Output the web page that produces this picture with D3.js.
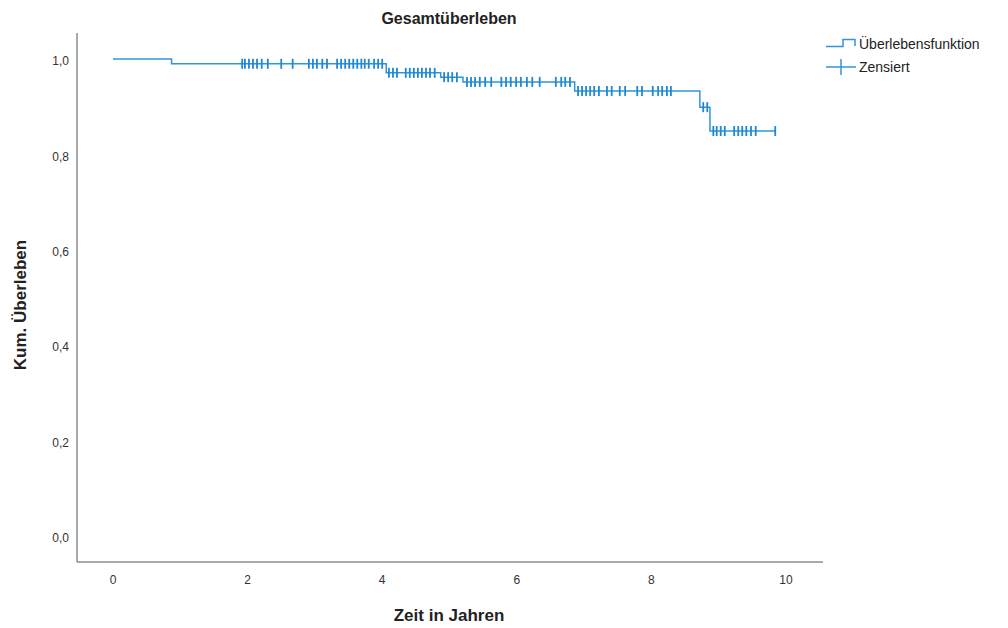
<!DOCTYPE html>
<html><head><meta charset="utf-8">
<script src="https://cdn.jsdelivr.net/npm/d3@7"></script>
<style>body{margin:0;background:#fff}svg{display:block}text{font-family:"Liberation Sans",Arial,sans-serif;fill:#222}</style>
</head><body>
<script>
// Event times (years) and survival after each event
const eventTimes = [0.87, 4.06, 4.87, 5.20, 6.86, 8.72, 8.87];
const survivalAfter = [0.99, 0.971, 0.962, 0.952, 0.933, 0.899, 0.849];
// Censored observation times (years)
const censoredTimes = [1.92,1.96,2.02,2.08,2.14,2.21,2.30,2.50,2.67,2.91,2.97,3.03,3.11,3.18,3.33,3.39,3.45,3.51,3.57,3.63,3.69,3.74,3.80,3.88,3.94,4.00,
 4.10,4.16,4.22,4.35,4.41,4.47,4.53,4.59,4.65,4.71,4.78,
 4.92,4.98,5.04,5.11,
 5.26,5.32,5.38,5.45,5.53,5.62,5.77,5.84,5.91,5.99,6.06,6.15,6.23,6.34,6.58,6.66,6.72,6.79,
 6.91,6.97,7.03,7.09,7.15,7.22,7.34,7.41,7.53,7.61,7.79,7.86,8.02,8.10,8.16,8.23,8.29,
 8.77,8.83,
 8.92,8.97,9.03,9.09,9.23,9.29,9.35,9.41,9.48,9.55,9.84];
const xTicks = [0,2,4,6,8,10];
const yTicks = [0,0.2,0.4,0.6,0.8,1.0];
const title = "Gesamtüberleben";
const xTitle = "Zeit in Jahren";
const yTitle = "Kum. Überleben";
const legendLabels = ["Überlebensfunktion","Zensiert"];

const W=1008,H=628, col="#3294d8", colMark="#1f88d4";
const svg=d3.select("body").append("svg").attr("width",W).attr("height",H);
const x=d3.scaleLinear().domain([0,10]).range([113,786]);
const y=d3.scaleLinear().domain([0,1]).range([536,59]);
const frame={l:77,r:823,t:33,b:562};

function surv(t){let s=1;eventTimes.forEach((e,i)=>{if(e<=t)s=survivalAfter[i];});return s;}

// axes lines
svg.append("line").attr("x1",frame.l).attr("x2",frame.l).attr("y1",frame.t).attr("y2",frame.b).attr("stroke","#8c8c8c").attr("stroke-width",1.5);
svg.append("line").attr("x1",frame.l).attr("x2",frame.r).attr("y1",frame.b).attr("y2",frame.b).attr("stroke","#8c8c8c").attr("stroke-width",1.5);

const fmt=d=>d3.format(".1f")(d).replace(".",",");
svg.selectAll(".yt").data(yTicks).enter().append("text").attr("x",69).attr("y",d=>y(d)+2).attr("dy","0.35em")
 .attr("text-anchor","end").attr("font-size",12).style("fill","#333").text(fmt);
svg.selectAll(".xt").data(xTicks).enter().append("text").attr("x",d=>x(d)).attr("y",584)
 .attr("text-anchor","middle").attr("font-size",12).style("fill","#333").text(d=>d);

svg.append("text").attr("x",449).attr("y",24).attr("text-anchor","middle").attr("font-size",16).attr("font-weight","bold").text(title);
svg.append("text").attr("x",449).attr("y",621).attr("text-anchor","middle").attr("font-size",17).attr("font-weight","bold").text(xTitle);
svg.append("text").attr("transform","translate(26,305) rotate(-90)").attr("text-anchor","middle").attr("font-size",17).attr("font-weight","bold").text(yTitle);

// step curve
const lastT=d3.max(censoredTimes);
const pts=[[0,1]];
eventTimes.forEach((e,i)=>{pts.push([e,i?survivalAfter[i-1]:1]);pts.push([e,survivalAfter[i]]);});
pts.push([lastT,survivalAfter[survivalAfter.length-1]]);
svg.append("path").attr("d",d3.line().x(d=>x(d[0])).y(d=>y(d[1]))(pts)).attr("fill","none").attr("stroke",col).attr("stroke-width",1.5);

svg.selectAll(".cen").data(censoredTimes).enter().append("line")
 .attr("x1",d=>x(d)).attr("x2",d=>x(d)).attr("y1",d=>y(surv(d))-5).attr("y2",d=>y(surv(d))+5)
 .attr("stroke",colMark).attr("stroke-width",1.8);

// legend
const lg=svg.append("g");
lg.append("path").attr("d","M826,46.5H843V39.5H855V46").attr("fill","none").attr("stroke",col).attr("stroke-width",1.5);
lg.append("text").attr("x",859).attr("y",49).attr("font-size",14).text(legendLabels[0]);
lg.append("line").attr("x1",826).attr("x2",856).attr("y1",67).attr("y2",67).attr("stroke",col).attr("stroke-width",1.5);
lg.append("line").attr("x1",841).attr("x2",841).attr("y1",59).attr("y2",75).attr("stroke",col).attr("stroke-width",1.5);
lg.append("text").attr("x",859).attr("y",72).attr("font-size",14).text(legendLabels[1]);
</script>
</body></html>
